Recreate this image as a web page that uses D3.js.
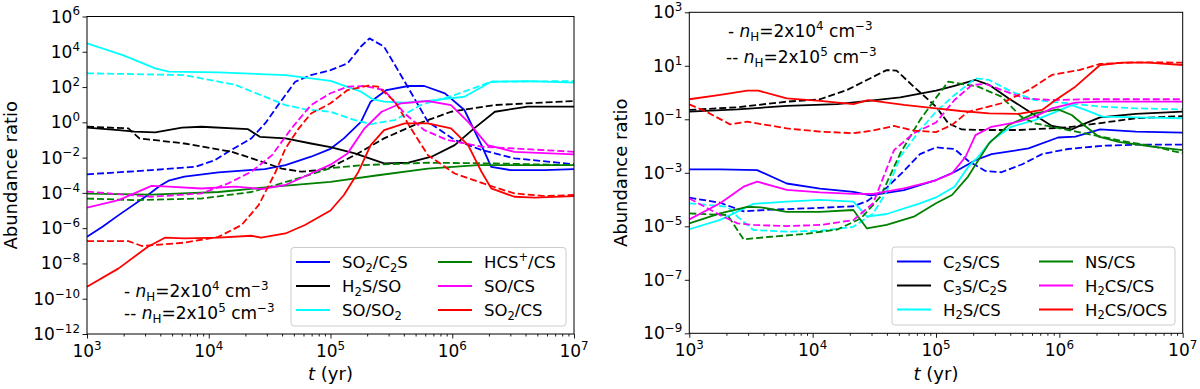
<!DOCTYPE html>
<html>
<head>
<meta charset="utf-8">
<script src="https://cdn.jsdelivr.net/npm/d3@7"></script>
<style>
body{margin:0;background:#fff}
svg{display:block;font-family:"DejaVu Sans",sans-serif}
</style>
</head>
<body>
<svg id="chart" width="1200" height="389"></svg>
<script>
// values as [log10 t(yr), log10 ratio]
// "lo" = nH=2x10^4 (solid), "hi" = nH=2x10^5 (dashed)

// ---- left panel ----
var so2c2s_lo = [[3.0,-6.49],[3.13,-5.9],[3.26,-5.26],[3.5,-4.12],[3.6,-3.6],[3.67,-3.31],[3.8,-3.08],[4.08,-2.84],[4.46,-2.65],[4.63,-2.42],[4.84,-1.95],[5.0,-1.5],[5.11,-0.91],[5.25,0.03],[5.33,1.17],[5.46,1.83],[5.64,2.06],[5.77,2.06],[5.94,1.64],[6.1,0.7],[6.24,-1.29],[6.32,-2.52],[6.48,-2.71],[6.76,-2.71],[7.0,-2.65]];
var so2c2s_hi = [[3.0,-2.95],[3.53,-2.71],[3.89,-2.52],[4.05,-2.15],[4.16,-1.67],[4.35,-0.91],[4.47,0.0],[4.57,0.98],[4.71,2.3],[4.84,2.68],[5.0,2.96],[5.14,3.34],[5.25,4.3],[5.32,4.76],[5.44,4.29],[5.61,2.3],[5.8,0.03],[6.02,-1.0],[6.24,-1.57],[6.51,-2.04],[7.0,-2.38]];
var h2sso_lo = [[3.0,-0.3],[3.26,-0.44],[3.39,-0.53],[3.56,-0.57],[3.78,-0.3],[3.94,-0.25],[4.32,-0.38],[4.42,-0.82],[4.63,-0.91],[4.84,-1.2],[5.0,-1.4],[5.2,-1.76],[5.44,-2.33],[5.64,-2.29],[5.83,-1.95],[6.02,-1.29],[6.18,-0.34],[6.35,0.6],[6.62,0.89],[7.0,0.89]];
var h2sso_hi = [[3.0,-0.25],[3.34,-0.34],[3.43,-0.91],[3.8,-1.2],[4.19,-1.67],[4.44,-2.24],[4.6,-2.62],[4.76,-2.8],[4.9,-2.71],[5.0,-2.55],[5.2,-1.86],[5.44,-0.91],[5.69,-0.15],[5.99,0.6],[6.35,0.98],[7.0,1.21]];
var soso2_lo = [[3.0,4.48],[3.3,3.8],[3.56,3.06],[3.67,2.87],[4.08,2.83],[4.63,2.68],[5.0,2.35],[5.25,1.74],[5.35,1.3],[5.44,1.17],[5.61,1.11],[5.78,1.2],[6.1,1.45],[6.32,2.3],[6.62,2.34],[7.0,2.25]];
var soso2_hi = [[3.0,2.78],[3.8,2.68],[4.22,2.12],[4.63,0.98],[4.8,0.73],[5.0,0.6],[5.2,0.13],[5.33,-0.1],[5.53,0.13],[5.74,0.98],[6.02,1.55],[6.32,2.3],[7.0,2.34]];
var hcscs_lo = [[3.0,-4.04],[3.53,-4.1],[4.08,-3.95],[4.49,-3.67],[5.0,-3.38],[5.39,-3.0],[5.8,-2.62],[6.21,-2.43],[7.0,-2.43]];
var hcscs_hi = [[3.0,-4.32],[3.39,-4.41],[3.94,-4.32],[4.35,-3.95],[4.68,-3.29],[5.0,-2.6],[5.25,-2.43],[5.8,-2.29],[6.35,-2.33],[7.0,-2.43]];
var socs_lo = [[3.0,-4.84],[3.26,-4.41],[3.53,-3.6],[3.67,-3.65],[3.94,-3.75],[4.22,-3.65],[4.44,-3.78],[4.63,-3.55],[4.84,-2.9],[5.0,-2.4],[5.14,-1.76],[5.28,-0.34],[5.42,0.6],[5.58,1.08],[5.8,1.21],[5.99,0.98],[6.13,0.03],[6.29,-1.29],[6.51,-1.67],[7.0,-1.82]];
var socs_hi = [[3.0,-3.93],[3.53,-4.22],[3.94,-4.03],[4.16,-3.46],[4.35,-2.8],[4.52,-1.86],[4.68,-0.34],[4.84,0.98],[5.0,1.65],[5.14,2.02],[5.28,2.06],[5.44,1.83],[5.61,0.5],[5.77,-0.44],[5.96,-1.0],[6.24,-1.38],[7.0,-1.67]];
var so2cs_lo = [[3.0,-9.32],[3.26,-8.28],[3.5,-7.05],[3.64,-6.54],[3.8,-6.58],[4.08,-6.54],[4.35,-6.43],[4.43,-6.54],[4.63,-6.3],[4.79,-5.82],[5.0,-5.0],[5.11,-4.12],[5.23,-2.8],[5.33,-1.29],[5.44,-0.44],[5.61,-0.06],[5.8,-0.06],[5.99,-0.34],[6.13,-1.29],[6.24,-2.8],[6.32,-3.74],[6.51,-4.22],[6.68,-4.27],[7.0,-4.18]];
var so2cs_hi = [[3.0,-6.73],[3.34,-6.73],[3.45,-7.01],[3.8,-6.82],[4.08,-6.49],[4.27,-5.82],[4.41,-4.69],[4.55,-2.8],[4.63,-1.48],[4.74,-0.34],[4.84,0.5],[5.0,1.08],[5.14,1.83],[5.31,2.08],[5.39,2.02],[5.53,1.17],[5.66,-0.34],[5.8,-1.86],[6.02,-2.9],[6.29,-3.55],[6.51,-4.03],[6.76,-4.18],[7.0,-4.12]];

// ---- right panel ----
var c2scs_lo = [[3.0,-2.87],[3.25,-2.87],[3.55,-2.9],[3.79,-3.4],[4.06,-3.59],[4.33,-3.71],[4.47,-3.84],[4.74,-3.65],[5.0,-3.27],[5.15,-2.97],[5.32,-2.53],[5.45,-2.3],[5.75,-2.09],[5.99,-1.68],[6.13,-1.65],[6.33,-1.38],[6.62,-1.46],[7.0,-1.5]];
var c2scs_hi = [[3.0,-3.93],[3.25,-4.12],[3.44,-4.44],[3.66,-4.38],[4.06,-4.31],[4.33,-4.25],[4.44,-4.06],[4.6,-3.56],[4.74,-2.93],[4.87,-2.3],[5.0,-2.05],[5.15,-2.11],[5.26,-2.55],[5.4,-2.93],[5.53,-2.98],[5.7,-2.68],[5.86,-2.3],[6.07,-2.11],[6.35,-1.99],[6.62,-1.95],[7.0,-1.95]];
var c3sc2s_lo = [[3.0,-0.71],[3.39,-0.63],[3.79,-0.5],[4.2,-0.43],[4.47,-0.3],[4.71,-0.18],[5.0,0.07],[5.15,0.25],[5.32,0.47],[5.43,0.29],[5.59,-0.22],[5.78,-0.78],[5.94,-1.25],[6.1,-1.38],[6.18,-1.21],[6.33,-0.93],[6.62,-0.8],[7.0,-0.71]];
var c3sc2s_hi = [[3.0,-0.65],[3.39,-0.55],[3.79,-0.34],[4.06,-0.25],[4.28,0.1],[4.44,0.47],[4.6,0.84],[4.68,0.82],[4.82,0.22],[5.0,-0.53],[5.1,-1.15],[5.21,-1.38],[5.4,-1.4],[5.67,-1.4],[6.07,-1.3],[6.35,-1.13],[6.62,-0.96],[7.0,-0.88]];
var h2scs_lo = [[3.0,-5.11],[3.25,-4.76],[3.52,-4.16],[3.79,-4.08],[4.06,-4.01],[4.33,-4.08],[4.44,-4.64],[4.6,-4.54],[4.87,-4.14],[5.0,-3.92],[5.15,-3.52],[5.26,-2.78],[5.34,-2.41],[5.45,-1.79],[5.61,-1.28],[5.8,-1.03],[5.94,-0.78],[6.1,-0.47],[6.21,-0.65],[6.35,-0.9],[6.62,-0.93],[7.0,-0.96]];
var h2scs_hi = [[3.0,-4.14],[3.31,-4.27],[3.39,-4.64],[3.52,-5.14],[3.79,-5.2],[4.06,-5.17],[4.33,-5.02],[4.49,-4.52],[4.6,-3.71],[4.71,-2.4],[4.87,-1.4],[5.0,-0.72],[5.15,-0.09],[5.32,0.53],[5.43,0.47],[5.61,0.04],[5.8,-0.28],[6.07,-0.4],[6.35,-0.53],[6.62,-0.59],[7.0,-0.63]];
var nscs_lo = [[3.0,-4.89],[3.25,-4.52],[3.47,-4.27],[3.58,-4.29],[3.79,-4.46],[4.06,-4.46],[4.33,-4.39],[4.44,-5.08],[4.6,-4.95],[4.82,-4.64],[5.0,-4.14],[5.13,-3.83],[5.26,-3.14],[5.43,-1.9],[5.59,-1.21],[5.8,-0.78],[5.99,-0.63],[6.1,-0.84],[6.18,-1.15],[6.32,-1.65],[6.48,-1.84],[6.75,-2.02],[7.0,-2.15]];
var nscs_hi = [[3.0,-4.52],[3.31,-4.58],[3.44,-5.49],[3.66,-5.39],[3.93,-5.29],[4.2,-5.12],[4.39,-4.71],[4.55,-3.89],[4.71,-2.27],[4.87,-1.03],[5.0,-0.2],[5.1,0.41],[5.21,0.32],[5.34,0.22],[5.53,-0.15],[5.69,-0.9],[5.8,-1.15],[6.07,-1.4],[6.32,-1.63],[6.51,-1.81],[6.75,-2.0],[7.0,-2.27]];
var h2cscs_lo = [[3.0,-4.74],[3.25,-4.14],[3.44,-3.52],[3.55,-3.33],[3.79,-3.64],[4.06,-3.73],[4.33,-3.79],[4.49,-3.79],[4.74,-3.58],[5.0,-3.28],[5.13,-3.02],[5.24,-2.4],[5.32,-1.59],[5.45,-1.28],[5.67,-1.09],[5.8,-0.9],[5.94,-0.59],[6.13,-0.38],[6.35,-0.34],[7.0,-0.34]];
var h2cscs_hi = [[3.0,-3.96],[3.25,-4.58],[3.39,-4.89],[3.52,-4.95],[3.79,-4.99],[4.06,-4.95],[4.33,-4.77],[4.49,-4.14],[4.66,-2.15],[4.82,-1.52],[5.0,-1.12],[5.15,-0.28],[5.29,0.28],[5.4,0.32],[5.53,0.1],[5.72,-0.22],[5.94,-0.28],[6.21,-0.25],[7.0,-0.25]];
var h2csocs_lo = [[3.0,-0.25],[3.25,-0.09],[3.47,0.07],[3.56,0.07],[3.79,-0.22],[4.06,-0.31],[4.33,-0.43],[4.45,-0.28],[4.74,-0.46],[5.0,-0.59],[5.2,-0.69],[5.43,-0.78],[5.67,-0.8],[5.86,-0.65],[5.97,-0.28],[6.13,0.22],[6.33,1.03],[6.51,1.12],[6.72,1.12],[7.0,1.03]];
var h2csocs_hi = [[3.0,-0.44],[3.14,-0.72],[3.33,-1.19],[3.47,-1.09],[3.79,-1.34],[4.06,-1.46],[4.33,-1.52],[4.49,-1.42],[4.66,-1.25],[4.82,-1.42],[5.0,-1.48],[5.13,-1.21],[5.26,-0.72],[5.53,-0.4],[5.75,0.09],[5.94,0.66],[6.16,0.84],[6.33,1.07],[6.62,1.13],[7.0,1.12]];

// tick exponents
var xTickExp = [3, 4, 5, 6, 7];
var leftYTickExp = [6, 4, 2, 0, -2, -4, -6, -8, -10, -12];
var rightYTickExp = [3, 1, -1, -3, -5, -7, -9];

// legend labels as [text, style] pieces
var leftLabels = [
  [["SO"],["2","sub"],["/C"],["2","sub"],["S"]],
  [["H"],["2","sub"],["S/SO"]],
  [["SO/SO"],["2","sub"]],
  [["HCS"],["+","sup"],["/CS"]],
  [["SO/CS"]],
  [["SO"],["2","sub"],["/CS"]]
];
var rightLabels = [
  [["C"],["2","sub"],["S/CS"]],
  [["C"],["3","sub"],["S/C"],["2","sub"],["S"]],
  [["H"],["2","sub"],["S/CS"]],
  [["NS/CS"]],
  [["H"],["2","sub"],["CS/CS"]],
  [["H"],["2","sub"],["CS/OCS"]]
];
var colors = ["#0000ff", "#000000", "#00ffff", "#008000", "#ff00ff", "#ff0000"];

var svg = d3.select("#chart");

// text with sub/superscripts and italics, mathtext style
function rich(sel, parts, size) {
    var cur = 0;
    parts.forEach(function(p) {
        var t = sel.append("tspan").text(p[0]);
        var want = 0;
        if (p[1] === "sup") { want = -0.42 * size; t.attr("font-size", size * 0.7); }
        if (p[1] === "sub") { want = 0.22 * size; t.attr("font-size", size * 0.7); }
        if (p[1] === "it") t.attr("font-style", "italic");
        if (want !== cur) t.attr("dy", want - cur);
        cur = want;
    });
}

function drawPanel(cfg) {
    var x = d3.scaleLog().domain([1e3, 1e7]).range([cfg.left, cfg.right]);
    var y = d3.scaleLog().domain(cfg.yDomain).range([cfg.bottom, cfg.top]);
    var g = svg.append("g");

    g.append("clipPath").attr("id", cfg.id + "clip")
        .append("rect")
        .attr("x", cfg.left).attr("y", cfg.top)
        .attr("width", cfg.right - cfg.left).attr("height", cfg.bottom - cfg.top);

    var line = d3.line()
        .x(function(d) { return x(Math.pow(10, d[0])); })
        .y(function(d) { return y(Math.pow(10, d[1])); })
        .curve(d3.curveLinear);

    var lines = g.append("g").attr("clip-path", "url(#" + cfg.id + "clip)");
    cfg.series.forEach(function(s, i) {
        lines.append("path").datum(s[0])
            .attr("d", line).attr("fill", "none")
            .attr("stroke", colors[i]).attr("stroke-width", 1.8)
            .attr("stroke-linejoin", "round");
        lines.append("path").datum(s[1])
            .attr("d", line).attr("fill", "none")
            .attr("stroke", colors[i]).attr("stroke-width", 1.8)
            .attr("stroke-linejoin", "round")
            .attr("stroke-dasharray", "7,3");
    });

    // x axis: major + minor ticks
    var minor = [];
    for (var e = 3; e < 7; e++) for (var m = 2; m < 10; m++) minor.push(m * Math.pow(10, e));
    var xa = g.append("g").attr("transform", "translate(0," + cfg.bottom + ")");
    xa.call(d3.axisBottom(x).tickValues(minor).tickSize(2.5).tickFormat(""));
    xa.append("g").call(d3.axisBottom(x).tickValues(xTickExp.map(function(v) { return Math.pow(10, v); }))
        .tickSize(4.5).tickFormat(""));
    xa.selectAll(".domain").remove();
    xa.selectAll("line").attr("stroke", "#000").attr("stroke-width", 0.9);
    xTickExp.forEach(function(v) {
        var t = g.append("text").attr("x", x(Math.pow(10, v))).attr("y", cfg.bottom + 23)
            .attr("text-anchor", "middle").attr("font-size", 17);
        rich(t, [["10"], [String(v), "sup"]], 17);
    });

    var ya = g.append("g").attr("transform", "translate(" + cfg.left + ",0)");
    ya.call(d3.axisLeft(y).tickValues(cfg.yTicks.map(function(v) { return Math.pow(10, v); }))
        .tickSize(4.5).tickFormat(""));
    ya.selectAll(".domain").remove();
    ya.selectAll("line").attr("stroke", "#000").attr("stroke-width", 0.9);
    cfg.yTicks.forEach(function(v) {
        var t = g.append("text").attr("x", cfg.left - 7).attr("y", y(Math.pow(10, v)) + 6)
            .attr("text-anchor", "end").attr("font-size", 17);
        rich(t, [["10"], [String(v).replace("-", "\u2212"), "sup"]], 17);
    });

    g.append("rect")
        .attr("x", cfg.left).attr("y", cfg.top)
        .attr("width", cfg.right - cfg.left).attr("height", cfg.bottom - cfg.top)
        .attr("fill", "none").attr("stroke", "#000").attr("stroke-width", 1);

    // axis titles
    var xl = g.append("text").attr("x", (cfg.left + cfg.right) / 2).attr("y", 380)
        .attr("text-anchor", "middle").attr("font-size", 18);
    rich(xl, [["t", "it"], [" (yr)"]], 18);
    g.append("text")
        .attr("transform", "translate(" + cfg.ylabelX + "," + ((cfg.top + cfg.bottom) / 2) + ") rotate(-90)")
        .attr("text-anchor", "middle").attr("font-size", 18)
        .text("Abundance ratio");

    // density note
    var n1 = g.append("text").attr("x", cfg.note[0]).attr("y", cfg.note[1]).attr("font-size", 17);
    rich(n1, [["- "], ["n", "it"], ["H", "sub"], ["=2x10"], ["4", "sup"], [" cm"], ["\u22123", "sup"]], 17);
    var n2 = g.append("text").attr("x", cfg.note[2]).attr("y", cfg.note[3]).attr("font-size", 17);
    rich(n2, [["-- "], ["n", "it"], ["H", "sub"], ["=2x10"], ["5", "sup"], [" cm"], ["\u22123", "sup"]], 17);

    // legend
    var L = cfg.legend;
    g.append("rect")
        .attr("x", L.x).attr("y", L.y).attr("width", L.w).attr("height", L.h)
        .attr("rx", 3).attr("fill", "#fff").attr("fill-opacity", 0.8)
        .attr("stroke", "#cccccc").attr("stroke-width", 1);
    cfg.labels.forEach(function(lab, i) {
        var col = Math.floor(i / 3), row = i % 3;
        var lx = L.x + 5 + col * L.colW;
        var ly = L.y + 14.5 + row * 24;
        g.append("line").attr("x1", lx).attr("x2", lx + 34).attr("y1", ly).attr("y2", ly)
            .attr("stroke", colors[i]).attr("stroke-width", 1.8);
        var t = g.append("text").attr("x", lx + 46).attr("y", ly + 6).attr("font-size", 16.5);
        rich(t, lab, 16.5);
    });
}

drawPanel({
    id: "left", left: 87, right: 574, top: 16.5, bottom: 334,
    yDomain: [1e-12, 1e6], yTicks: leftYTickExp, ylabelX: 17,
    series: [[so2c2s_lo, so2c2s_hi], [h2sso_lo, h2sso_hi], [soso2_lo, soso2_hi],
             [hcscs_lo, hcscs_hi], [socs_lo, socs_hi], [so2cs_lo, so2cs_hi]],
    labels: leftLabels,
    legend: {x: 291, y: 247.5, w: 275, h: 78.5, colW: 142},
    note: [124, 297, 124, 319]
});

drawPanel({
    id: "right", left: 689.3, right: 1182.7, top: 12.3, bottom: 333.3,
    yDomain: [1e-9, 1e3], yTicks: rightYTickExp, ylabelX: 627,
    series: [[c2scs_lo, c2scs_hi], [c3sc2s_lo, c3sc2s_hi], [h2scs_lo, h2scs_hi],
             [nscs_lo, nscs_hi], [h2cscs_lo, h2cscs_hi], [h2csocs_lo, h2csocs_hi]],
    labels: rightLabels,
    legend: {x: 892, y: 247, w: 283, h: 78, colW: 142},
    note: [728, 37, 726, 63]
});
</script>
</body>
</html>
